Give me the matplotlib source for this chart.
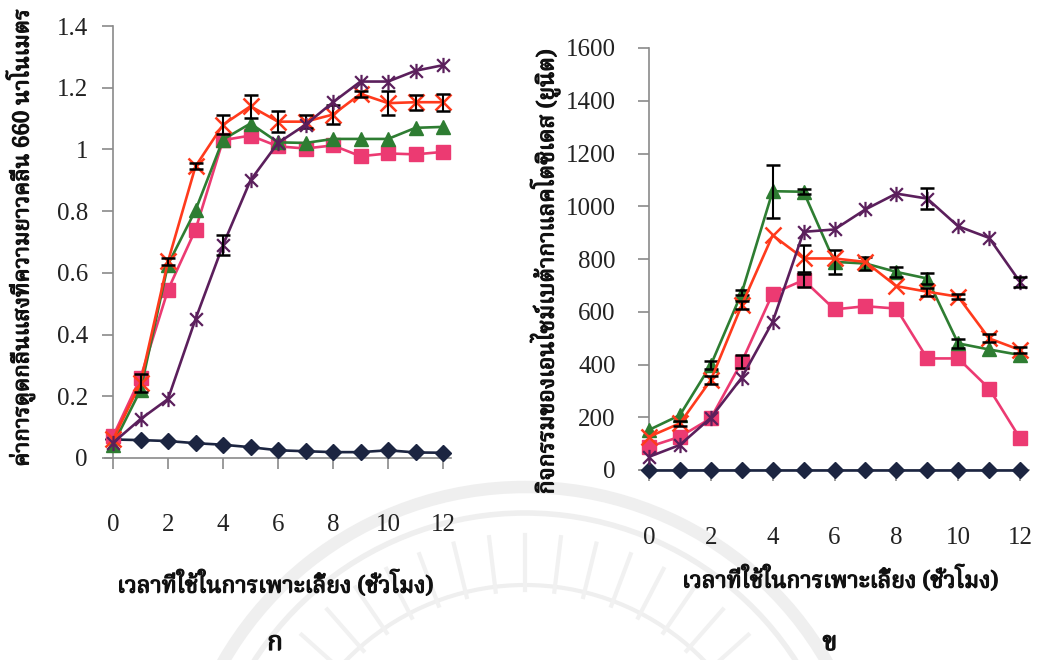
import numpy as np
import matplotlib
matplotlib.use("Agg")
from matplotlib import pyplot as plt
from matplotlib import font_manager
from matplotlib import patheffects
from matplotlib.ft2font import FT2Font
from matplotlib.patches import Arc
from matplotlib.path import Path

# time (hours)
hours = np.arange(0, 13)

# absorbance at 660 nm
od_diamond = [0.060, 0.058, 0.055, 0.048, 0.043, 0.035, 0.025, 0.022, 0.019, 0.019, 0.025, 0.018, 0.017]
od_square = [0.070, 0.260, 0.545, 0.740, 1.030, 1.045, 1.010, 1.003, 1.013, 0.978, 0.987, 0.984, 0.992]
od_triangle = [0.043, 0.220, 0.627, 0.803, 1.032, 1.084, 1.023, 1.021, 1.034, 1.034, 1.034, 1.070, 1.073]
od_cross = [0.060, 0.243, 0.637, 0.945, 1.080, 1.140, 1.090, 1.090, 1.113, 1.180, 1.150, 1.153, 1.153]
od_star = [0.049, 0.126, 0.191, 0.450, 0.690, 0.900, 1.021, 1.080, 1.153, 1.220, 1.220, 1.255, 1.273]
od_cross_err = [0, 0.030, 0.010, 0.010, 0.030, 0.038, 0.035, 0.022, 0.030, 0.010, 0.040, 0.025, 0.027]
od_star_err = [0, 0, 0, 0, 0.032, 0, 0, 0, 0, 0, 0, 0, 0]

# beta-galactosidase activity (units)
act_diamond = [0] * 13
act_square = [88, 126, 196, 410, 669, 720, 609, 621, 612, 423, 423, 309, 120]
act_triangle = [152, 208, 398, 672, 1057, 1055, 789, 783, 751, 726, 480, 457, 436]
act_cross = [126, 177, 341, 625, 890, 802, 802, 789, 697, 676, 657, 499, 455]
act_star = [50, 95, 198, 350, 562, 903, 912, 988, 1048, 1029, 924, 880, 713]
act_triangle_err = [0, 0, 15, 10, 100, 10, 47, 25, 18, 22, 18, 0, 0]
act_cross_err = [0, 10, 15, 15, 0, 50, 0, 0, 0, 15, 10, 15, 10]
act_square_err = [0, 0, 0, 25, 0, 25, 0, 0, 0, 0, 0, 0, 0]
act_star_err = [0, 0, 0, 0, 0, 0, 0, 0, 0, 40, 0, 0, 20]

x_ticks = [0, 2, 4, 6, 8, 10, 12]
od_ticks = [0, 0.2, 0.4, 0.6, 0.8, 1, 1.2, 1.4]
od_ticklabels = ["0", "0.2", "0.4", "0.6", "0.8", "1", "1.2", "1.4"]
act_ticks = [0, 200, 400, 600, 800, 1000, 1200, 1400, 1600]

ylabel_left = "ค่าการดูดกลืนแสงที่ความยาวคลื่น 660 นาโนเมตร"
ylabel_right = "กิจกรรมของเอนไซม์เบต้ากาแลคโตซิเดส (ยูนิต)"
xlabel = "เวลาที่ใช้ในการเพาะเลี้ยง (ชั่วโมง)"


def thai_family():
    # first installed font that has Thai glyphs
    names = []
    for f in font_manager.fontManager.ttflist:
        try:
            if 0x0E01 in FT2Font(f.fname).get_charmap():
                names.append(f.name)
        except Exception:
            pass
    for pref in ["Noto Serif Thai", "Noto Sans Thai", "Loma", "Garuda", "Tlwg Typo"]:
        if pref in names:
            return pref
    return names[0] if names else "DejaVu Sans"


THAI = [thai_family(), "DejaVu Sans"]
SERIF = "Liberation Serif"
BOLD = [patheffects.withStroke(linewidth=0.9, foreground="#111111")]

C_NAVY = "#1c2541"
C_PINK = "#ec3a72"
C_GREEN = "#2e7d32"
C_RED = "#ff3a1c"
C_PURPLE = "#5b1f5c"
# x with a vertical bar through it
STAR = Path([(-1, -1), (1, 1), (-1, 1), (1, -1), (0, -1.2), (0, 1.2)],
            [Path.MOVETO, Path.LINETO, Path.MOVETO, Path.LINETO, Path.MOVETO, Path.LINETO])

fig = plt.figure(figsize=(10.53, 6.6), dpi=100)

# faint seal in the background
cx, cy = 525 / 1053, -175 / 660
for r, w in [(348, 9), (322, 4), (250, 3)]:
    fig.add_artist(Arc((cx, cy), 2 * r / 1053, 2 * r / 660,
                       theta1=20, theta2=160, color="#efefef", lw=w,
                       transform=fig.transFigure, zorder=0))
for ang in np.linspace(35, 145, 17):
    a = np.deg2rad(ang)
    r0, r1 = 245, 300
    fig.add_artist(plt.Line2D([(525 + r0 * np.cos(a)) / 1053, (525 + r1 * np.cos(a)) / 1053],
                              [(-175 + r0 * np.sin(a)) / 660, (-175 + r1 * np.sin(a)) / 660],
                              color="#f1f1f1", lw=3, transform=fig.transFigure, zorder=0))

ax1 = fig.add_axes([104.75 / 1053, 202 / 660, 346.5 / 1053, 432 / 660])
ax2 = fig.add_axes([639.7 / 1053, 190 / 660, 389.6 / 1053, 422 / 660])


def style(ax, ylim, yticks, ylabels, ypad, xpad):
    ax.set_xlim(-0.3, 12.3)
    ax.set_ylim(*ylim)
    ax.patch.set_alpha(0)
    for s in ["top", "right"]:
        ax.spines[s].set_visible(False)
    ax.spines["left"].set_position(("data", 0))
    for s in ["left", "bottom"]:
        ax.spines[s].set_color("#8a8a8a")
        ax.spines[s].set_linewidth(1.2)
    ax.set_xticks(x_ticks)
    ax.set_yticks(yticks)
    ax.set_yticklabels(ylabels)
    ax.tick_params(axis="both", direction="out", length=8, width=1.2, color="#8a8a8a",
                   labelsize=18, labelcolor="#222222")
    ax.tick_params(axis="y", pad=ypad)
    ax.tick_params(axis="x", pad=xpad)
    for lab in ax.get_xticklabels() + ax.get_yticklabels():
        lab.set_fontfamily(SERIF)


def series(ax, y, color, marker, ms, mew=1.0, err=None, z=3):
    ax.plot(hours, y, color=color, marker=marker, ms=ms, mew=mew, mec=color, mfc=color,
            lw=1.9, clip_on=False, zorder=z)
    if err is not None:
        e = np.asarray(err, dtype=float)
        keep = e > 0
        ax.errorbar(hours[keep], np.asarray(y, dtype=float)[keep], yerr=e[keep], fmt="none",
                    ecolor="black", elinewidth=1.5, capsize=5, capthick=1.8,
                    clip_on=False, zorder=z + 1)


style(ax1, (0, 1.4), od_ticks, od_ticklabels, 10, 32)
series(ax1, od_diamond, C_NAVY, "D", 8.5, z=3)
series(ax1, od_square, C_PINK, "s", 10.5, z=4)
series(ax1, od_triangle, C_GREEN, "^", 10.5, z=5)
series(ax1, od_cross, C_RED, "x", 11, mew=1.8, err=od_cross_err, z=6)
series(ax1, od_star, C_PURPLE, STAR, 11, mew=1.6, err=od_star_err, z=8)

style(ax2, (0, 1600), act_ticks, [str(t) for t in act_ticks], 16, 33)
series(ax2, act_diamond, C_NAVY, "D", 8.5, z=3)
series(ax2, act_square, C_PINK, "s", 10.5, err=act_square_err, z=4)
series(ax2, act_triangle, C_GREEN, "^", 10.5, err=act_triangle_err, z=5)
series(ax2, act_cross, C_RED, "x", 11, mew=1.8, err=act_cross_err, z=6)
series(ax2, act_star, C_PURPLE, STAR, 11, mew=1.6, err=act_star_err, z=8)

# axis titles and panel labels
kw = dict(ha="center", va="center", family=THAI, color="#111111", path_effects=BOLD)
fig.text(20 / 1053, 1 - 238 / 660, ylabel_left, rotation=90, fontsize=16, **kw)
fig.text(545 / 1053, 1 - 272 / 660, ylabel_right, rotation=90, fontsize=16.5, **kw)
fig.text(275 / 1053, 1 - 585 / 660, xlabel, fontsize=16.5, **kw)
fig.text(840 / 1053, 1 - 580 / 660, xlabel, fontsize=16.5, **kw)
fig.text(275 / 1053, 1 - 643 / 660, "ก", fontsize=19, **kw)
fig.text(830 / 1053, 1 - 643 / 660, "ข", fontsize=19, **kw)

fig.savefig("out.png", dpi=100)
